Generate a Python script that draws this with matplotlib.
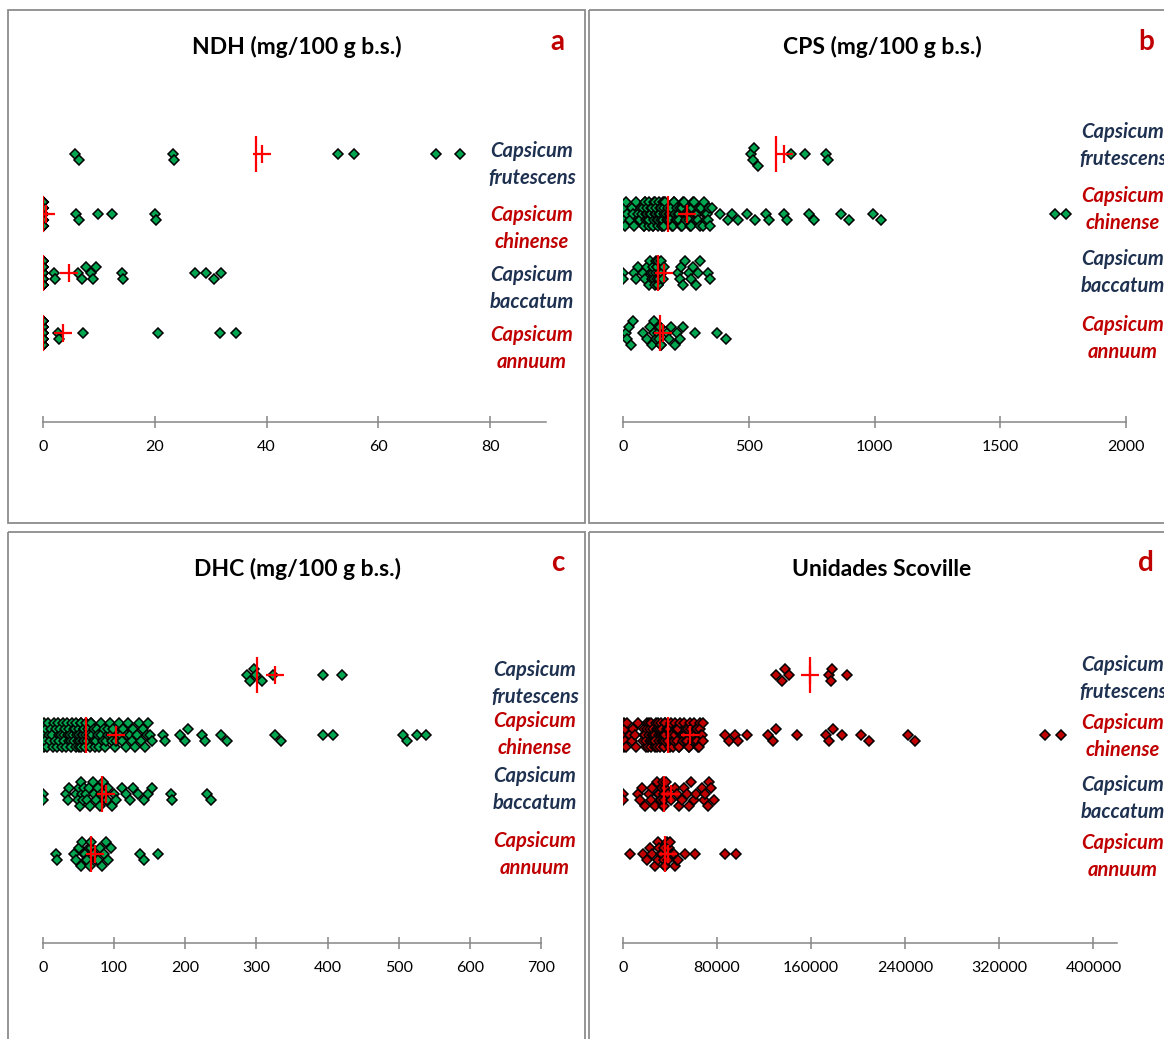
# Distribución de capsaicinoides por especie de Capsicum (gráficos de puntos)

import matplotlib.pyplot as plt
import numpy as np
from matplotlib.patches import Rectangle
from matplotlib.transforms import blended_transform_factory

plt.rcParams['font.family'] = ['Lato', 'DejaVu Sans']

W, H = 1164, 1039

especies = ['Capsicum\nfrutescens', 'Capsicum\nchinense', 'Capsicum\nbaccatum', 'Capsicum\nannuum']
filas = [4, 3, 2, 1]
col_esp = ['#1F3150', '#C00000', '#1F3150', '#C00000']

# --- NDH (mg/100 g b.s.) ---
ndh_frut = [5.8, 6.4, 23.3, 23.5, 52.8, 55.7, 70.4, 74.7]
ndh_chin = [0.0] * 124 + [5.9, 6.5, 9.9, 12.4, 20.0, 20.2]
ndh_bacc = [0.0] * 29 + [2.0, 2.2, 6.2, 7.0, 7.7, 8.5, 8.9, 9.5, 14.2, 14.3, 27.2, 29.2, 30.6, 31.9]
ndh_ann = [0.0] * 22 + [2.6, 2.9, 7.1, 20.6, 31.6, 34.5]
ndh_media = [39.1, 0.55, 4.6, 3.55]
ndh_mediana = [38.2, 0.0, 0.0, 0.0]

# --- CPS (mg/100 g b.s.) ---
cps_frut = [509, 515, 522, 535, 669, 723, 807, 815]
cps_chin = [0, 3, 5, 8, 11, 15,
            27, 34, 39, 45, 51, 58, 63, 68,
            73, 76, 79, 82, 84, 86, 89, 91, 93, 94, 97, 99, 102, 104, 105,
            108, 111, 113, 116, 118, 120, 122, 123, 126, 129, 131, 133, 136, 138, 139,
            142, 145, 147, 149, 151, 153, 155, 157, 158, 160, 162, 163, 164, 165, 166,
            170, 174, 177, 180, 183, 185, 188, 192, 195, 197, 201, 204, 207, 210, 213,
            215, 219, 222, 224, 227, 231, 233, 236, 240, 243, 246, 249, 251, 255, 258,
            262, 265, 268, 271, 275, 279, 282, 286, 290, 294, 299, 303, 307, 312, 317,
            321, 325, 329, 333, 338, 342, 347,
            354, 386, 418, 433, 457, 493, 525, 569, 581, 640, 652, 739, 759, 866, 898,
            994, 1026, 1717, 1760]
cps_bacc = [0, 0, 44, 52, 58, 80, 88, 96, 102, 109, 112, 115, 118, 120, 124, 126, 130,
            131, 134, 136, 137, 139, 141, 141, 142, 144, 150, 155, 160, 163,
            218, 225, 232, 240, 246, 262, 270, 280, 290, 298, 305, 337, 345]
cps_ann = [10, 14, 22, 30, 40, 80, 94, 108, 115, 122, 125, 130, 138, 143, 146, 148,
           150, 152, 175, 184, 192, 205, 215, 228, 239, 288, 375, 410]
cps_media = [640, 254, 164, 160]
cps_mediana = [607, 178, 141, 148]

# --- DHC (mg/100 g b.s.) ---
dhc_frut = [287, 291, 296, 300, 308, 323, 394, 420]
dhc_chin = [0, 0, 0, 1, 1, 2, 3, 4,
            6, 7, 9, 10, 11, 13, 14, 15, 17, 18, 19, 21, 22, 23, 24, 25, 27, 28, 29, 30,
            31, 33, 34, 35, 36, 37, 38, 39, 40, 41, 42, 43, 44, 45, 46, 47, 48, 49, 50,
            51, 51, 52, 53, 54, 54, 55, 56, 56, 57, 57, 58, 58, 59, 59, 60,
            61, 62, 63, 64, 66, 67, 68, 69, 71, 72, 73, 75, 76, 78, 79, 81, 82, 84, 86,
            87, 89, 91, 92, 94, 96, 97, 99,
            101, 103, 105, 107, 109, 111, 113, 116, 118, 120, 122, 125, 127, 130, 132,
            135, 138, 140, 143, 146, 148, 150, 153,
            168, 172, 193, 200, 204, 224, 228, 250, 259, 326, 335, 394, 408, 506, 512,
            525, 538]
dhc_bacc = [0, 0, 33, 35, 37, 46, 49, 50, 52, 53, 55, 56, 58, 60, 62, 64, 66, 70, 72,
            75, 78, 80, 82, 84, 86, 88, 90, 92, 97, 100, 103, 111, 116, 122, 127, 133,
            142, 148, 153, 180, 182, 231, 236]
dhc_ann = [18, 19, 44, 47, 50, 53, 55, 57, 59, 60, 62, 64, 66, 67, 68, 70, 72, 75, 78,
           80, 83, 86, 89, 92, 95, 137, 142, 162]
dhc_media = [326, 103, 89, 73]
dhc_mediana = [301.5, 60, 82.5, 67]

# --- Unidades Scoville ---
shu_frut = [130500, 135000, 138000, 141500, 175000, 176500, 178000, 190500]
shu_chin = [0, 0, 300, 600, 900, 1200, 1600, 2000, 2600, 3300,
            6200, 7500, 8800, 10000, 11200, 12400,
            17000, 17600, 18100, 18700, 19200, 19800, 20300, 20700, 21200, 21800,
            22300, 22700, 23200, 23600, 24100, 24500, 25000, 25400, 25900, 26300,
            26800, 27200, 27600, 28100, 28500, 29000, 29400, 29900, 30300, 30700,
            31200, 31600, 32000, 32500, 32900, 33300, 33700, 34100, 34500, 34800,
            35100, 35400, 35600, 35800, 36000,
            37400, 38000, 38500, 39100, 39800, 40400, 41000, 41500, 42100, 42800,
            43300, 44000, 44500, 45100, 45700, 46300, 46900, 47400, 47900, 48400,
            50000, 50700, 51300, 52000, 52600, 53200, 53900, 54500, 55100, 55800,
            56400, 57000, 57600, 58300, 58900, 59500, 60100, 60800, 61400, 62000,
            62700, 63300, 63900, 64600, 65200, 65800, 66500, 67100, 67700, 68400,
            86400, 90000, 94800, 97800, 105600, 123600, 127400, 130500, 147600,
            172400, 175500, 178700, 186500, 202000, 208800, 242400, 248000,
            359000, 372300]
shu_bacc = [0, 0, 12400, 14500, 16500, 18600, 22000, 23500, 25000, 27000, 28500,
            29500, 30500, 31500, 32000, 32800, 33500, 34000, 34300, 34600, 34800,
            35000, 35500, 36500, 38000, 41000, 44000, 46000, 48000, 50500, 52000,
            54000, 56000, 58000, 60000, 62000, 66800, 68500, 70000, 72000, 73500,
            75000, 77600]
shu_ann = [6000, 17000, 20000, 23000, 25000, 27500, 29500, 30000, 31000, 32500,
           33500, 34500, 35000, 35500, 36000, 37000, 38500, 39000, 40000, 41500,
           43000, 44500, 45500, 46500, 52700, 61500, 87000, 95700]
shu_media = [159400, 57000, 41000, 37900]
shu_mediana = [159400, 38200, 35000, 35700]

ticks_ndh = [0, 20, 40, 60, 80]
ticks_cps = [0, 500, 1000, 1500, 2000]
ticks_dhc = [0, 100, 200, 300, 400, 500, 600, 700]
ticks_shu = [0, 80000, 160000, 240000, 320000, 400000]

PX_FILA = 59.5  # píxeles entre filas


def enjambre(vals, ppu, paso=3.0, niveles=4, ancho=9.0):
    """desplazamientos verticales (px) para que los puntos no se tapen"""
    px = np.asarray(vals, dtype='float64') * ppu
    slots = [0.0]
    for k in range(1, niveles + 1):
        slots += [-k * paso, k * paso]
    dy = np.zeros(len(px))
    colocados = []
    for i in np.argsort(px, kind='stable'):
        mejor, cmin = 0.0, None
        for s in slots:
            c = sum(1 for (x, y) in colocados if abs(x - px[i]) < ancho and abs(y - s) < 6.0)
            if cmin is None or c < cmin:
                mejor, cmin = s, c
        dy[i] = mejor
        colocados.append((px[i], mejor))
    return dy


def panel(fig, caja, xmax, series, media, mediana, ticks, relleno, lab_x, lab_dy):
    x0, x1, yb = caja
    ytop = yb - 5.5 * PX_FILA
    ax = fig.add_axes([x0 / W, 1 - yb / H, (x1 - x0) / W, (yb - ytop) / H])
    ax.patch.set_alpha(0)
    ppu = (x1 - x0) / xmax
    for vals, fila in zip(series, filas):
        dy = enjambre(vals, ppu)
        ax.plot(vals, fila + dy / PX_FILA, linestyle='none', marker='D', ms=5.0,
                mfc=relleno, mec='black', mew=1.1, zorder=3)
    # mediana (línea vertical) y media (cruz)
    ax.plot(mediana, filas, linestyle='none', marker='|', ms=26, mew=1.6,
            color='#FF0000', zorder=4)
    ax.plot(media, filas, linestyle='none', marker='+', ms=13, mew=1.6,
            color='#FF0000', zorder=4)
    tr = blended_transform_factory(ax.transAxes, ax.transData)
    for nom, fila, col, d in zip(especies, filas, col_esp, lab_dy):
        ax.text(lab_x, fila - d / PX_FILA, nom, transform=tr, ha='center', va='center',
                fontsize=14.5, fontweight='bold', fontstyle='italic', color=col,
                linespacing=1.42, clip_on=False)
    ax.set_xlim(0, xmax)
    ax.set_ylim(-0.5, 5.0)
    ax.set_xticks(ticks)
    ax.set_xticklabels([str(t) for t in ticks])
    for s in ['top', 'left', 'right']:
        ax.spines[s].set_visible(False)
    ax.spines['bottom'].set_color('#868686')
    ax.spines['bottom'].set_linewidth(1.1)
    ax.set_yticks([])
    ax.tick_params(axis='x', direction='inout', length=8.5, width=1.1, color='#868686',
                   pad=9, labelsize=11.5, labelcolor='black')
    return ax


fig = plt.figure(figsize=(W / 100, H / 100), dpi=100)

# marcos y títulos
bg = fig.add_axes([0, 0, 1, 1])
bg.set_xlim(0, W)
bg.set_ylim(H, 0)
bg.axis('off')
for (x, y, w, h) in [(8, 10, 577, 513), (589, 10, 586, 513), (8, 532, 577, 520), (589, 532, 586, 520)]:
    bg.add_patch(Rectangle((x, y), w, h, fill=False, edgecolor='#8C8C8C', lw=1.3))
for (x, y, t) in [(297, 47, 'NDH (mg/100 g b.s.)'), (882, 47, 'CPS (mg/100 g b.s.)'),
                  (297, 569, 'DHC (mg/100 g b.s.)'), (882, 569, 'Unidades Scoville')]:
    bg.text(x, y, t, ha='center', va='center', fontsize=16.5, fontweight='bold', color='black')
for (x, y, t) in [(557, 42, 'a'), (1146, 42, 'b'), (558, 563, 'c'), (1146, 563, 'd')]:
    bg.text(x, y, t, ha='center', va='center', fontsize=20, fontweight='bold', color='#C00000')

verde = '#00A54F'
rojo = '#C00000'
panel(fig, (43, 546, 422), 90, [ndh_frut, ndh_chin, ndh_bacc, ndh_ann],
      ndh_media, ndh_mediana, ticks_ndh, verde, (532 - 43) / 503, [10, 15, 15, 16])
panel(fig, (623, 1126, 422), 2000, [cps_frut, cps_chin, cps_bacc, cps_ann],
      cps_media, cps_mediana, ticks_cps, verde, (1123 - 623) / 503, [-9, -4, -1, 6])
panel(fig, (43, 541, 943), 700, [dhc_frut, dhc_chin, dhc_bacc, dhc_ann],
      dhc_media, dhc_mediana, ticks_dhc, verde, (535 - 43) / 498, [8, 0, -5, 1])
panel(fig, (623, 1117, 943), 420000, [shu_frut, shu_chin, shu_bacc, shu_ann],
      shu_media, shu_mediana, ticks_shu, rojo, (1123 - 623) / 494, [3, 2, 4, 3])

fig.savefig('out.png', dpi=100)
